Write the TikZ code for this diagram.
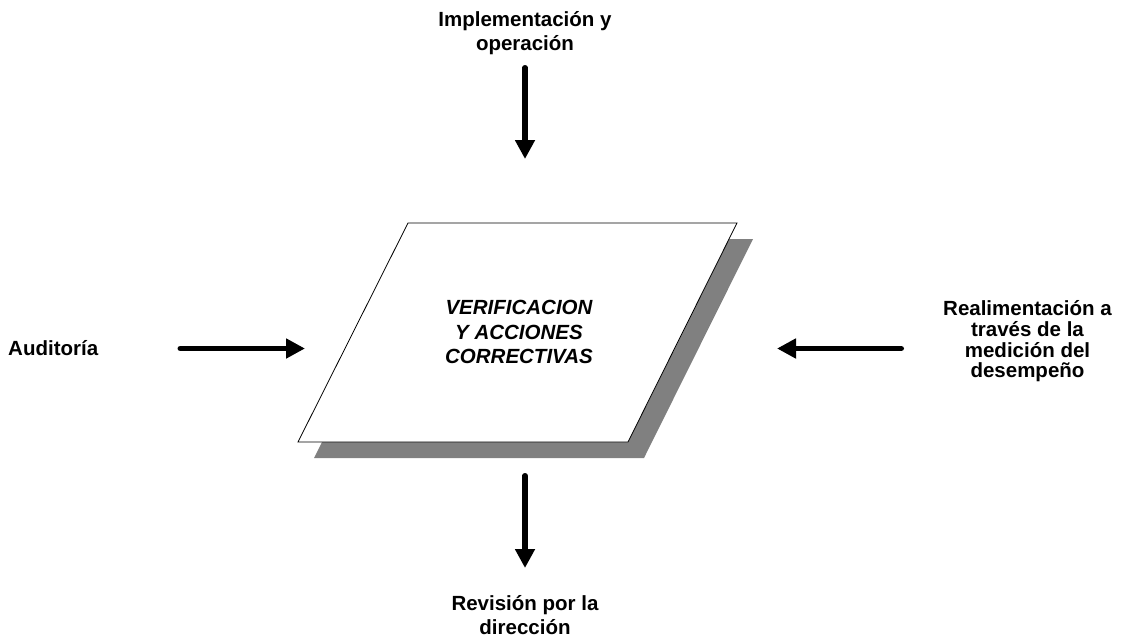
\documentclass[tikz,border=0pt]{standalone}
\usepackage{fontspec}
\setmainfont{Liberation Sans}
\usetikzlibrary{arrows.meta}
\definecolor{shadowgray}{HTML}{808080}
\begin{document}
\begin{tikzpicture}[x=1pt,y=-1pt,
  lbl/.style={font=\fontsize{20.5}{24.5}\selectfont\bfseries, align=center, inner sep=0pt},
  lblr/.style={font=\fontsize{20.5}{20.7}\selectfont\bfseries, align=center, inner sep=0pt},
  ctr/.style={font=\fontsize{20.5}{24.5}\selectfont\bfseries\itshape, align=center, inner sep=0pt},
  flow/.style={line width=5.5pt, line cap=round, -{Triangle[length=19pt,width=19pt]}},
  shade/.style={fill=shadowgray, draw=none},
  card/.style={fill=white, draw=black, line width=0.8pt, line join=miter}]
\useasboundingbox (0,0) rectangle (1122,637);
% parallelogram corners
\coordinate (A) at (408,223);
\coordinate (B) at (737,223);
\coordinate (C) at (628,442);
\coordinate (D) at (298,442);
% shadow
\fill[shade] ([shift={(16,16)}]A) -- ([shift={(16,16)}]B) -- ([shift={(16,16)}]C) -- ([shift={(16,16)}]D) -- cycle;
\draw[card] (A) -- (B) -- (C) -- (D) -- cycle;
\node[ctr] (center) at (519,332) {VERIFICACION\\Y ACCIONES\\CORRECTIVAS};
% labels
\node[lbl] (top) at (525,33) {Implementación y\\operación};
\node[lbl, anchor=base west] (left) at (8,355) {Auditoría};
\node[lblr] (right) at (1027.5,341.5) {Realimentación a\\través de la\\medición del\\desempeño};
\node[lbl] (bottom) at (525,615) {Revisión por la\\dirección};
% arrow end points
\coordinate (ts) at (525,67.75);
\coordinate (te) at (525,159);
\coordinate (bs) at (525,475.75);
\coordinate (be) at (525,568);
\coordinate (ls) at (180.25,348.5);
\coordinate (le) at (305,348.5);
\coordinate (rs) at (901.25,348.5);
\coordinate (re) at (777,348.5);
\draw[flow] (ts) -- (te);
\draw[flow] (bs) -- (be);
\draw[flow] (ls) -- (le);
\draw[flow] (rs) -- (re);
\end{tikzpicture}
\end{document}
